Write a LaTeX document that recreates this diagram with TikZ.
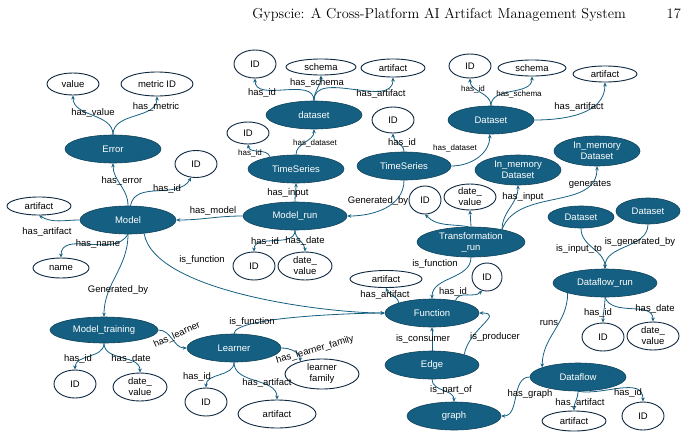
\documentclass[tikz,border=0pt]{standalone}
\usepackage{fontspec}
\newfontfamily\lab{Liberation Sans}
\usetikzlibrary{shapes.geometric,arrows.meta}
\definecolor{acc}{HTML}{156082}
\definecolor{outl}{HTML}{0E2841}
\begin{document}
\begin{tikzpicture}[x=1pt,y=1pt,
 dark/.style={ellipse,fill=acc,draw=acc!70!black,line width=0.6pt,text=white,inner sep=0pt,align=center,font=\lab\fontsize{9.5}{11}\selectfont},
 light/.style={ellipse,fill=white,draw=outl,line width=0.9pt,text=black,inner sep=0pt,align=center,font=\lab\fontsize{9.5}{11}\selectfont},
 sz/.style 2 args={minimum width=#1pt,minimum height=#2pt},
 conn/.style={draw=acc,line width=0.8pt,-{Stealth[length=4pt,width=3.6pt]}},
 lbl/.style={font=\lab\fontsize{9.5}{11}\selectfont,inner sep=0pt},
 slbl/.style={font=\lab\fontsize{8}{9}\selectfont,inner sep=0pt},
]
\useasboundingbox (0,0) rectangle (695,-439);
% header
\node[anchor=base east,inner sep=0pt,font=\fontsize{14.4}{17}\selectfont] (title) at (626,-18) {Gypscie: A Cross-Platform AI Artifact Management System};
\node[anchor=base east,inner sep=0pt,font=\fontsize{14.4}{17}\selectfont] (page) at (681,-18) {17};
% nodes
\node[light,sz={52}{22}] (value) at (73,-84) {value};
\node[light,sz={72}{24}] (metricID) at (157,-84) {metric ID};
\node[dark,sz={96}{28}] (Error) at (113,-149) {Error};
\node[light,sz={42}{27}] (idModel) at (196,-164) {ID};
\node[light,sz={64}{18}] (artModel) at (39,-206) {artifact};
\node[dark,sz={96}{28}] (Model) at (128,-220) {Model};
\node[light,sz={56}{20}] (name) at (61,-268) {name};
\node[dark,sz={108}{26}] (ModelTraining) at (104,-330) {Model\_training};
\node[light,sz={42}{28}] (idMT) at (75,-384) {ID};
\node[light,sz={54}{28}] (dateMT) at (140,-387) {date\_\\value};
\node[dark,sz={94}{28}] (Learner) at (234,-348) {Learner};
\node[light,sz={42}{28}] (idL) at (206,-402) {ID};
\node[light,sz={78}{28}] (artL) at (277,-414) {artifact};
\node[light,sz={74}{30}] (lfam) at (322,-374) {learner\\family};
\node[dark,sz={104}{28}] (ModelRun) at (295,-216) {Model\_run};
\node[light,sz={42}{28}] (idMR) at (254,-266) {ID};
\node[light,sz={54}{28}] (dateMR) at (305,-266) {date\_\\value};
\node[dark,sz={96}{28}] (TSL) at (296,-169) {TimeSeries};
\node[light,sz={42}{22}] (idTSL) at (248,-133) {ID};
\node[dark,sz={96}{28}] (dataset) at (314,-115) {dataset};
\node[light,sz={42}{28}] (idDS) at (255,-64) {ID};
\node[light,sz={70}{16}] (schemaDS) at (321,-67) {schema};
\node[light,sz={64}{18}] (artDS) at (393,-68) {artifact};
\node[dark,sz={94}{28}] (TSR) at (404,-166) {TimeSeries};
\node[light,sz={42}{26}] (idTSR) at (393,-120) {ID};
\node[dark,sz={86}{28}] (Dataset) at (491,-120) {Dataset};
\node[light,sz={42}{24}] (idD) at (470,-66) {ID};
\node[light,sz={68}{16}] (schemaD) at (532,-68) {schema};
\node[light,sz={64}{16}] (artD) at (605,-74) {artifact};
\node[dark,sz={86}{30}] (InMemL) at (518,-170) {In\_memory\\Dataset};
\node[dark,sz={86}{30}] (InMemR) at (597,-151) {In\_memory\\Dataset};
\node[dark,sz={108}{30}] (TR) at (471,-242) {Transformation\\\_run};
\node[light,sz={32}{28}] (idTR) at (425,-200) {ID};
\node[light,sz={52}{26}] (dateTR) at (470,-197) {date\_\\value};
\node[dark,sz={94}{28}] (Function) at (432,-313) {Function};
\node[light,sz={72}{17}] (artF) at (386,-279) {artifact};
\node[light,sz={30}{28}] (idF) at (487,-277) {ID};
\node[dark,sz={94}{28}] (Edge) at (432,-365) {Edge};
\node[dark,sz={94}{28}] (graph) at (454,-416) {graph};
\node[dark,sz={104}{28}] (DataflowRun) at (605,-283) {Dataflow\_run};
\node[dark,sz={66}{22}] (DsL) at (581,-217) {Dataset};
\node[dark,sz={64}{26}] (DsR) at (648,-211) {Dataset};
\node[light,sz={42}{28}] (idDR) at (603,-337) {ID};
\node[light,sz={52}{28}] (dateDR) at (653,-336) {date\_\\value};
\node[dark,sz={96}{28}] (Dataflow) at (578,-377) {Dataflow};
\node[light,sz={64}{20}] (artDF) at (574,-421) {artifact};
\node[light,sz={42}{28}] (idDF) at (643,-416) {ID};
% connectors
\draw[conn] (Error.north) to[out=90,in=-90] (value.south);
\draw[conn] (Error.north) to[out=90,in=-90] (metricID.south);
\draw[conn] (Model.north) to[out=90,in=-90] (Error.south);
\draw[conn] (Model.80) to[out=80,in=-120] (idModel.250);
\draw[conn] (Model.west) to[out=180,in=-30] (artModel.south);
\draw[conn] (Model.south) to[out=-120,in=90] (name.north);
\draw[conn] (Model.south) to[out=-90,in=90] (ModelTraining.north);
\draw[conn] (Model.-40) to[out=-80,in=180,looseness=0.6] (Function.west);
\draw[conn] (ModelRun.west) to[out=180,in=0] (Model.east);
\draw[conn] (ModelRun.north) to[out=90,in=-90] (TSL.south);
\draw[conn] (ModelRun.south) to[out=-90,in=90] (idMR.north);
\draw[conn] (ModelRun.south) to[out=-90,in=90] (dateMR.north);
\draw[conn] (TSL.155) to[out=110,in=-80] (idTSL.south);
\draw[conn] (TSL.north) to[out=90,in=-90] (dataset.south);
\draw[conn] (dataset.north) to[out=90,in=-90] (idDS.south);
\draw[conn] (dataset.north) to[out=90,in=-90] (schemaDS.south);
\draw[conn] (dataset.north) to[out=90,in=-90] (artDS.south);
\draw[conn] (TSR.north) to[out=90,in=-90] (idTSR.south);
\draw[conn] (TSR.east) to[out=0,in=-90] (Dataset.265);
\draw[conn] (TSR.south) to[out=-90,in=0] (ModelRun.east);
\draw[conn] (Dataset.north) to[out=90,in=-90] (idD.south);
\draw[conn] (Dataset.north) to[out=90,in=-90] (schemaD.south);
\draw[conn] (Dataset.east) to[out=0,in=-90] (artD.south);
\draw[conn] (TR.100) to[out=170,in=-45] (idTR.south);
\draw[conn] (TR.north) -- (dateTR.south);
\draw[conn] (TR.22) to[out=90,in=-90] (InMemL.south);
\draw[conn] (TR.22) to[out=70,in=-90] (InMemR.south);
\draw[conn] (TR.south) to[out=-90,in=90] (Function.north);
\draw[conn] (Function.163) to[out=100,in=-70] (artF.south);
\draw[conn] (Function.28) to[out=70,in=-135] (idF.250);
\draw[conn] (Learner.north) to[out=90,in=180,looseness=0.3] (Function.west);
\draw[conn] (Edge.north) -- (Function.south);
\draw[conn] (Edge.18) to[out=80,in=0,looseness=1.5] (Function.east);
\draw[conn] (Edge.south) to[out=-90,in=90] (graph.north);
\draw[conn] (DataflowRun.195) to[out=-90,in=90] (Dataflow.165);
\draw[conn] (Dataflow.west) to[out=180,in=0] (graph.east);
\draw[conn] (Dataflow.south) to[out=-90,in=90] (artDF.north);
\draw[conn] (Dataflow.south) to[out=-10,in=90] (idDF.north);
\draw[conn] (DataflowRun.south) to[out=-90,in=90] (idDR.north);
\draw[conn] (DataflowRun.south) to[out=-70,in=90] (dateDR.north);
\draw[conn] (DsL.south) to[out=-90,in=90] (DataflowRun.north);
\draw[conn] (DsR.south) to[out=-90,in=90] (DataflowRun.north);
\draw[conn] (ModelTraining.east) to[out=0,in=180] (Learner.west);
\draw[conn] (ModelTraining.south) to[out=-90,in=90] (idMT.north);
\draw[conn] (ModelTraining.south) to[out=-90,in=90] (dateMT.north);
\draw[conn] (Learner.east) to[out=0,in=90] (lfam.150);
\draw[conn] (Learner.south) to[out=-90,in=90] (idL.north);
\draw[conn] (Learner.south) to[out=-90,in=90] (artL.north);
% labels
\node[lbl] (l1) at (93,-113) {has\_value};
\node[lbl] (l2) at (156,-107) {has\_metric};
\node[lbl] (l3) at (122,-181) {has\_error};
\node[lbl] (l4) at (167,-189) {has\_id};
\node[lbl] (l5) at (47,-232) {has\_artifact};
\node[lbl] (l6) at (98,-244) {has\_name};
\node[lbl] (l7) at (213,-211) {has\_model};
\node[lbl] (l8) at (118,-290) {Generated\_by};
\node[lbl] (l9) at (202,-260) {is\_function};
\node[lbl] (l10) at (288,-193) {has\_input};
\node[lbl] (l11) at (265,-242) {has\_id};
\node[lbl] (l12) at (305,-241) {has\_date};
\node[slbl] (l13) at (250,-153) {has\_id};
\node[slbl] (l14) at (315,-143) {has\_dataset};
\node[lbl] (l15) at (262,-93) {has\_id};
\node[lbl] (l16) at (317,-83) {has\_schema};
\node[lbl] (l17) at (381,-94) {has\_artifact};
\node[lbl] (l18) at (402,-143) {has\_id};
\node[lbl] (l19) at (378,-201) {Generated\_by};
\node[slbl] (l20) at (455,-148) {has\_dataset};
\node[slbl] (l21) at (473,-89) {has\_id};
\node[slbl] (l22) at (519,-94) {has\_schema};
\node[lbl] (l23) at (579,-107) {has\_artifact};
\node[lbl] (l24) at (590,-184) {generates};
\node[lbl] (l25) at (523,-197) {has\_input};
\node[lbl] (l26) at (435,-264) {is\_function};
\node[lbl] (l27) at (385,-295) {has\_artifact};
\node[lbl] (l28) at (453,-292) {has\_id};
\node[lbl] (l29) at (252,-322) {is\_function};
\node[lbl] (l30) at (423,-339) {is\_consumer};
\node[lbl] (l31) at (495,-337) {is\_producer};
\node[lbl] (l32) at (451,-390) {is\_part\_of};
\node[lbl] (l33) at (549,-323) {runs};
\node[lbl] (l34) at (530,-394) {has\_graph};
\node[lbl] (l35) at (580,-403) {has\_artifact};
\node[lbl] (l36) at (628,-393) {has\_id};
\node[lbl] (l37) at (598,-313) {has\_id};
\node[lbl] (l38) at (655,-309) {has\_date};
\node[lbl] (l39) at (579,-249) {is\_input\_to};
\node[lbl] (l40) at (640,-242) {is\_generated\_by};
\node[lbl,rotate=25] (l41) at (177,-335) {has\_learner};
\node[lbl] (l42) at (78,-359) {has\_id};
\node[lbl] (l43) at (131,-359) {has\_date};
\node[lbl,rotate=16] (l44) at (315,-350) {has\_learner\_family};
\node[lbl] (l45) at (197,-377) {has\_id};
\node[lbl] (l46) at (267,-383) {has\_artifact};
\end{tikzpicture}
\end{document}
